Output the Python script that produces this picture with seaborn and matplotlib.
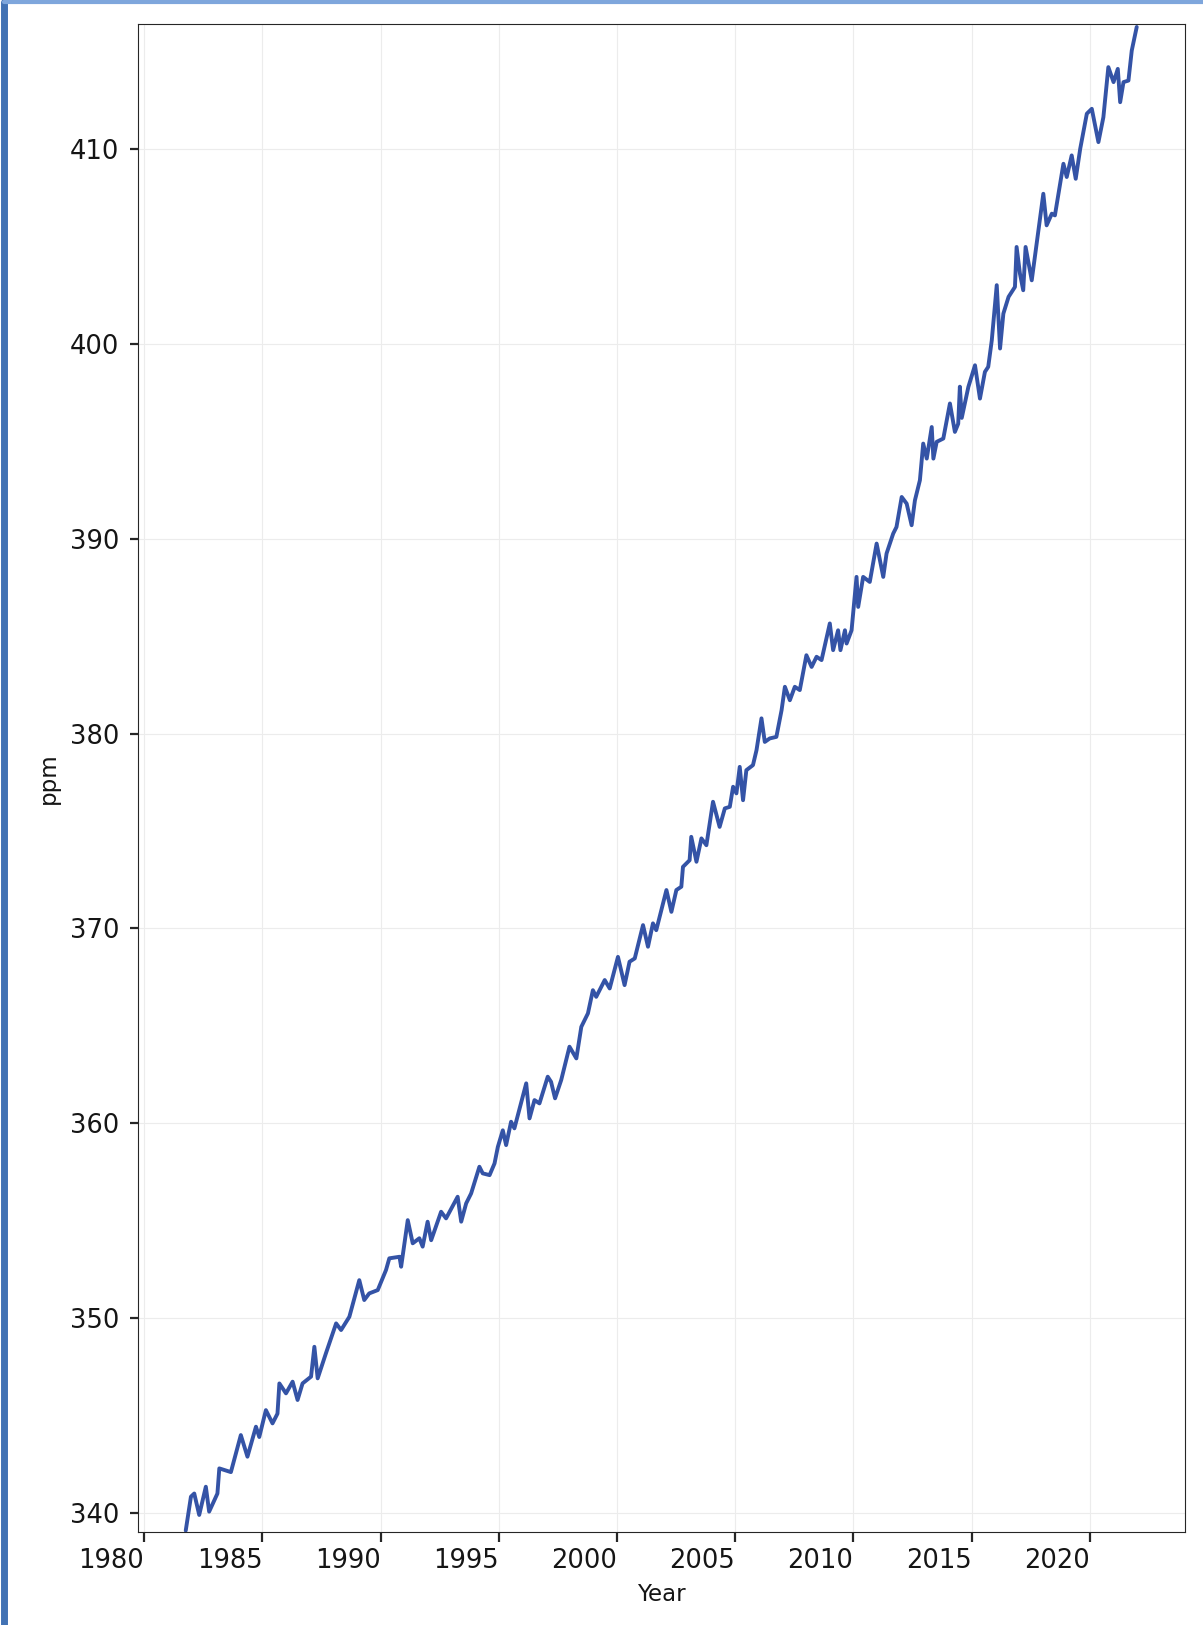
import matplotlib
matplotlib.use('Agg')
import matplotlib.pyplot as plt
from matplotlib.lines import Line2D
import seaborn as sns

# monthly-ish CO2 readings
years = [1981.76, 1981.98, 1982.12, 1982.33, 1982.61, 1982.75, 1983.10, 1983.18, 1983.67, 1984.09,
         1984.37, 1984.73, 1984.87, 1985.15, 1985.43, 1985.64, 1985.72, 1986.00, 1986.28, 1986.49,
         1986.70, 1987.06, 1987.20, 1987.34, 1987.69, 1988.12, 1988.33, 1988.68, 1989.10, 1989.31,
         1989.52, 1989.88, 1990.23, 1990.37, 1990.80, 1990.87, 1991.15, 1991.36, 1991.64, 1991.78,
         1991.99, 1992.14, 1992.56, 1992.77, 1993.26, 1993.41, 1993.62, 1993.83, 1994.18, 1994.32,
         1994.61, 1994.82, 1994.96, 1995.17, 1995.31, 1995.52, 1995.66, 1996.16, 1996.30, 1996.51,
         1996.72, 1997.07, 1997.21, 1997.38, 1997.64, 1997.99, 1998.28, 1998.49, 1998.77, 1998.98,
         1999.12, 1999.48, 1999.69, 2000.04, 2000.32, 2000.53, 2000.75, 2001.10, 2001.31, 2001.52,
         2001.66, 2002.09, 2002.30, 2002.51, 2002.72, 2002.79, 2003.07, 2003.14, 2003.36, 2003.57,
         2003.78, 2004.06, 2004.34, 2004.56, 2004.77, 2004.91, 2005.05, 2005.19, 2005.33, 2005.47,
         2005.75, 2005.90, 2006.11, 2006.25, 2006.46, 2006.74, 2006.96, 2007.10, 2007.31, 2007.52,
         2007.73, 2008.01, 2008.23, 2008.44, 2008.65, 2009.00, 2009.14, 2009.35, 2009.45, 2009.64,
         2009.71, 2009.92, 2010.13, 2010.20, 2010.41, 2010.69, 2010.98, 2011.26, 2011.40, 2011.68,
         2011.82, 2012.04, 2012.25, 2012.46, 2012.60, 2012.81, 2012.95, 2013.10, 2013.31, 2013.38,
         2013.52, 2013.80, 2014.08, 2014.29, 2014.43, 2014.50, 2014.58, 2014.86, 2015.14, 2015.35,
         2015.56, 2015.70, 2015.85, 2016.06, 2016.20, 2016.34, 2016.56, 2016.83, 2016.90, 2017.04,
         2017.18, 2017.28, 2017.54, 2018.03, 2018.17, 2018.39, 2018.52, 2018.88, 2019.02, 2019.23,
         2019.40, 2019.59, 2019.87, 2020.08, 2020.36, 2020.57, 2020.78, 2021.00, 2021.18, 2021.28,
         2021.42, 2021.63, 2021.77, 2021.98]

ppm = [339.10, 340.84, 341.00, 339.90, 341.35, 340.07, 341.00, 342.29, 342.10, 344.00,
       342.89, 344.43, 343.90, 345.28, 344.60, 345.10, 346.65, 346.14, 346.74, 345.80,
       346.65, 347.00, 348.53, 346.91, 348.20, 349.73, 349.39, 350.07, 351.95, 350.93,
       351.27, 351.44, 352.47, 353.07, 353.15, 352.64, 355.03, 353.84, 354.10, 353.67,
       354.95, 354.00, 355.46, 355.12, 356.23, 354.95, 355.89, 356.40, 357.77, 357.43,
       357.34, 357.94, 358.79, 359.64, 358.88, 360.08, 359.74, 362.05, 360.25, 361.19,
       361.02, 362.39, 362.13, 361.28, 362.22, 363.93, 363.33, 364.95, 365.64, 366.83,
       366.49, 367.35, 366.92, 368.54, 367.09, 368.29, 368.46, 370.17, 369.06, 370.26,
       369.91, 371.97, 370.85, 371.97, 372.14, 373.16, 373.50, 374.70, 373.42, 374.62,
       374.27, 376.50, 375.21, 376.16, 376.24, 377.27, 376.93, 378.29, 376.58, 378.12,
       378.38, 379.15, 380.78, 379.57, 379.75, 379.83, 381.20, 382.40, 381.71, 382.40,
       382.23, 384.02, 383.42, 383.94, 383.77, 385.65, 384.28, 385.30, 384.28, 385.30,
       384.62, 385.30, 388.04, 386.50, 388.04, 387.78, 389.75, 388.04, 389.24, 390.26,
       390.60, 392.14, 391.80, 390.69, 391.97, 393.00, 394.88, 394.11, 395.73, 394.11,
       394.97, 395.14, 396.94, 395.48, 395.90, 397.80, 396.20, 397.79, 398.90, 397.19,
       398.56, 398.82, 400.18, 403.01, 399.76, 401.55, 402.41, 402.92, 404.97, 403.61,
       402.75, 404.97, 403.26, 407.70, 406.08, 406.68, 406.59, 409.24, 408.56, 409.67,
       408.47, 410.01, 411.81, 412.06, 410.35, 411.63, 414.20, 413.43, 414.11, 412.40,
       413.43, 413.51, 415.05, 416.26]

xtick_years = [1980, 1985, 1990, 1995, 2000, 2005, 2010, 2015, 2020]
ytick_ppm = [340, 350, 360, 370, 380, 390, 400, 410]

sns.set_style('whitegrid', rc={
    'axes.edgecolor': '#262626',
    'axes.linewidth': 1.8,
    'grid.color': '#ececec',
    'grid.linewidth': 1.0,
    'xtick.bottom': True,
    'ytick.left': True,
    'xtick.color': '#262626',
    'ytick.color': '#262626',
})
plt.rcParams['font.family'] = ['DejaVu Sans']

fig = plt.figure(figsize=(12.03, 16.25), dpi=100)
ax = fig.add_axes([0.1143, 0.0574, 0.8707, 0.9278])

sns.lineplot(x=years, y=ppm, ax=ax, color='#3453a6', linewidth=2.8, sort=False)

ax.set_xlim(1979.72, 2024.02)
ax.set_ylim(339.04, 416.41)
ax.set_xticks(xtick_years)
ax.set_yticks(ytick_ppm)
ax.tick_params(axis='x', labelsize=18.5, length=7, width=1.6, pad=4.5, labelcolor='#151515')
ax.tick_params(axis='y', labelsize=18.5, length=6, width=1.6, pad=7, labelcolor='#151515')
plt.setp(ax.get_xticklabels(), ha='right')

ax.set_xlabel('Year', fontsize=16.5, labelpad=7, color='#151515')
ax.set_ylabel('ppm', fontsize=16.5, labelpad=7, color='#151515')

# blue scan frame on the left and top edges
fig.add_artist(Line2D([0.003, 0.003], [0, 0.999], transform=fig.transFigure,
                      color='#4272b4', linewidth=5))
fig.add_artist(Line2D([0.003, 1.0], [0.9988, 0.9988], transform=fig.transFigure,
                      color='#7ea6dc', linewidth=3))

fig.savefig('out.png', dpi=100)
